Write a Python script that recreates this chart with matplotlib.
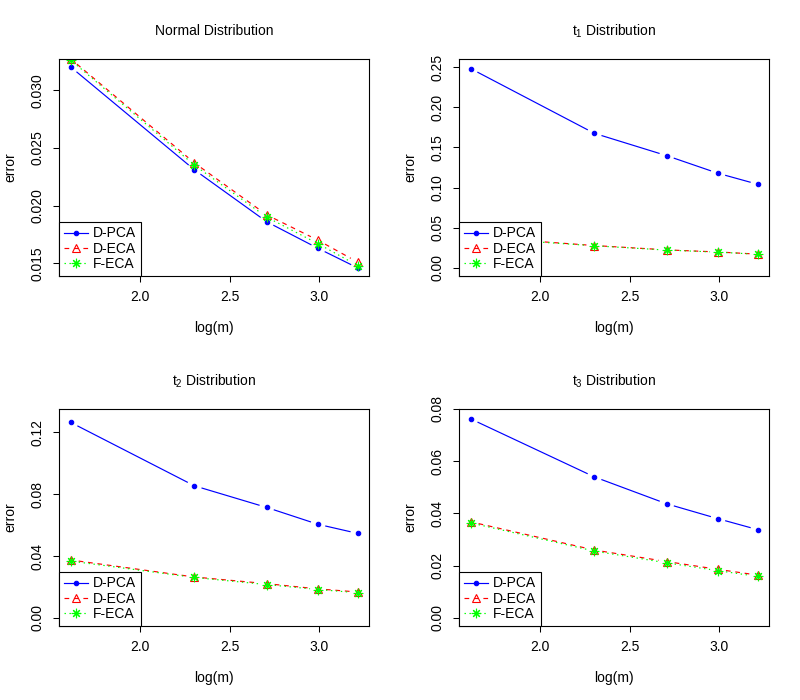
import numpy as np
import matplotlib.pyplot as plt
from matplotlib.lines import Line2D

plt.rcParams['font.family'] = ['Liberation Sans', 'DejaVu Sans']
plt.rcParams['mathtext.fontset'] = 'custom'
plt.rcParams['mathtext.rm'] = 'Liberation Sans'
plt.rcParams['mathtext.it'] = 'Liberation Sans'

# m = 5, 10, 15, 20, 25
m = [5, 10, 15, 20, 25]
x = np.log(m)

titles = ['Normal Distribution', 't$_1$ Distribution', 't$_2$ Distribution', 't$_3$ Distribution']

dpca = [
    [0.0320, 0.0231, 0.0186, 0.0163, 0.0146],
    [0.248, 0.1675, 0.1397, 0.1178, 0.1041],
    [0.1265, 0.0855, 0.0715, 0.0606, 0.0547],
    [0.0762, 0.0540, 0.0437, 0.0380, 0.0338],
]
deca = [
    [0.0327, 0.0237, 0.0192, 0.0170, 0.0151],
    [0.039, 0.0279, 0.0225, 0.0199, 0.0172],
    [0.0375, 0.0265, 0.0222, 0.0188, 0.0168],
    [0.0368, 0.0260, 0.0216, 0.0186, 0.0164],
]
feca = [
    [0.0326, 0.0235, 0.0190, 0.0167, 0.0148],
    [0.038, 0.0276, 0.0222, 0.0197, 0.0170],
    [0.0368, 0.0262, 0.0216, 0.0184, 0.0163],
    [0.0364, 0.0256, 0.0211, 0.0181, 0.0159],
]
ylims = [None, (0, 0.25), (0, 0.13), (0, 0.0768)]
yticks = [
    [0.015, 0.020, 0.025, 0.030],
    [0.00, 0.05, 0.10, 0.15, 0.20, 0.25],
    [0.00, 0.04, 0.08, 0.12],
    [0.00, 0.02, 0.04, 0.06, 0.08],
]
yfmt = ['%.3f', '%.2f', '%.2f', '%.2f']
xticks = [2.0, 2.5, 3.0]

labels = ['D-PCA', 'D-ECA', 'F-ECA']
colors = ['#0000FF', '#FF0000', '#00FF00']
styles = ['-', (0, (4, 4)), (0, (1.2, 3))]
markers = ['o', '^', (8, 2, 0)]
msizes = [3.2, 6.0, 6.8]
mfaces = ['#0000FF', 'none', '#00FF00']

W, H = 800, 700
fig = plt.figure(figsize=(8, 7), dpi=100)
fig.patch.set_facecolor('white')

lefts = [59.3, 459.3, 59.3, 459.3]
tops = [59, 59, 409, 409]
aw, ah = 310, 217
LW = 0.85


def pad(lo, hi):
    r = hi - lo
    return lo - 0.04 * r, hi + 0.04 * r


def draw_b(ax, xs, ys, color, ls, marker, ms, mfc, gap=8.0):
    # R type="b": segments with a gap around every point (gap in pixels)
    x0, x1 = ax.get_xlim()
    y0, y1 = ax.get_ylim()
    sx = aw / (x1 - x0)
    sy = ah / (y1 - y0)
    px = (np.asarray(xs) - x0) * sx
    py = (np.asarray(ys) - y0) * sy
    for i in range(len(px) - 1):
        dx = px[i + 1] - px[i]
        dy = py[i + 1] - py[i]
        L = np.hypot(dx, dy)
        if L <= 2 * gap:
            continue
        ux, uy = dx / L, dy / L
        ax_ = (px[i] + ux * gap) / sx + x0
        ay_ = (py[i] + uy * gap) / sy + y0
        bx_ = (px[i + 1] - ux * gap) / sx + x0
        by_ = (py[i + 1] - uy * gap) / sy + y0
        ax.plot([ax_, bx_], [ay_, by_], color=color, linestyle=ls, lw=LW)
    ax.plot(xs, ys, linestyle='none', marker=marker, ms=ms, mfc=mfc,
            mec=color, mew=0.8, color=color)


for k in range(4):
    ax = fig.add_axes([lefts[k] / W, 1 - (tops[k] + ah) / H, aw / W, ah / H])
    ax.set_xlim(*pad(x.min(), x.max()))
    if ylims[k] is None:
        ax.set_ylim(*pad(min(dpca[k]), max(dpca[k])))
    else:
        ax.set_ylim(*pad(*ylims[k]))

    series = [dpca[k], deca[k], feca[k]]
    for s in range(3):
        draw_b(ax, x, series[s], colors[s], styles[s], markers[s], msizes[s], mfaces[s])

    ax.set_xticks(xticks)
    ax.set_xticklabels(['%.1f' % t for t in xticks])
    ax.set_yticks(yticks[k])
    ax.set_yticklabels([yfmt[k] % t for t in yticks[k]], rotation=90, va='center')
    ax.tick_params(direction='out', length=4.3, width=0.75, labelsize=10, pad=6)
    for sp in ax.spines.values():
        sp.set_linewidth(0.8)

    ax.set_ylabel('error', fontsize=10, va='center')
    ax.yaxis.set_label_coords(-49.3 / aw, 0.5)
    ax.set_xlabel('log(m)', fontsize=10, va='center')
    ax.xaxis.set_label_coords(0.5, -52 / ah)
    ax.text(0.5, 1 + 28 / ah, titles[k], transform=ax.transAxes,
            ha='center', va='center', fontsize=10)

    handles = [Line2D([], [], color=colors[s], linestyle=styles[s], lw=LW,
                      marker=markers[s], ms=msizes[s], mfc=mfaces[s],
                      mec=colors[s], mew=0.8) for s in range(3)]
    leg = ax.legend(handles, labels, loc='lower left', borderaxespad=0,
                    fontsize=10, frameon=True, fancybox=False, framealpha=1,
                    edgecolor='black', handlelength=1.7, handletextpad=0.4,
                    labelspacing=0.1, borderpad=0.35)
    leg.get_frame().set_linewidth(0.8)

fig.savefig('out.png', dpi=100)
